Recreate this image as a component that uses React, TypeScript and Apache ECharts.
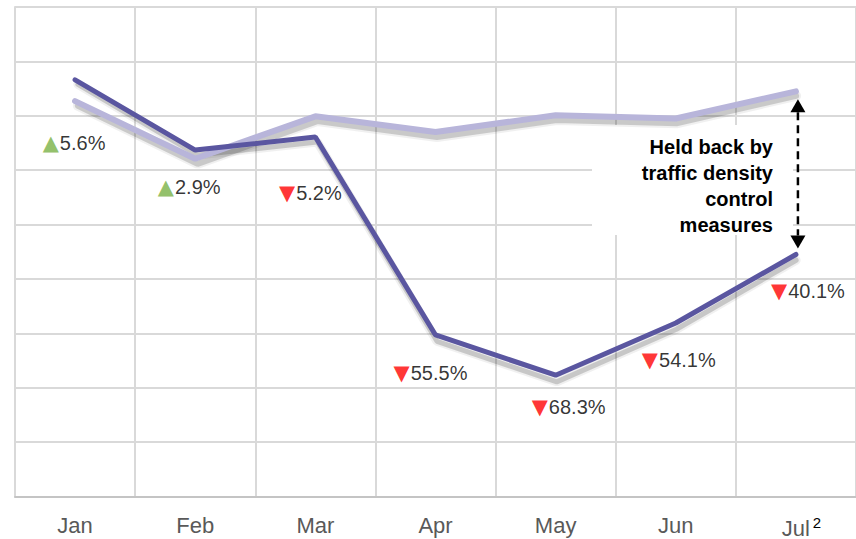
import React, { useEffect, useRef } from "react";
import * as echarts from "echarts";

// Monthly values (index units) and year-on-year change of the current year
const months = ["Jan", "Feb", "Mar", "Apr", "May", "Jun", "Jul"];
const previousYear = [7.27, 6.21, 6.99, 6.7, 7.01, 6.95, 7.45];
const currentYear = [7.66, 6.37, 6.61, 2.97, 2.23, 3.19, 4.45];
const changePct = [5.6, 2.9, -5.2, -55.5, -68.3, -54.1, -40.1];
const footnoteMonth = "Jul";
const footnoteMark = "2";
const annotationLines = ["Held back by", "traffic density", "control", "measures"];

// Where each change label sits relative to its point (pixels)
const labelShift: [number, number][] = [
  [-1, 63],
  [-6, 37],
  [-5, 56],
  [-5, 38],
  [13, 32],
  [3, 37],
  [12, 37],
];

const FONT = '"Liberation Sans", Arial, "DejaVu Sans", sans-serif';
const GRID_COLOR = "#d9d9d9";
const DARK = "#5a56a0";
const LIGHT = "#b8b5da";

const GRID_BOX = { left: 15, top: 7, width: 849, height: 493 };
// the drop shadow is the same lines drawn on a grid nudged down-right
const SHADOW_DX = 3;
const SHADOW_DY = 4;

function changeLabel(v: number): string {
  const mark = v >= 0 ? "{up|▲}" : "{down|▼}";
  return mark + "{t|" + Math.abs(v).toFixed(1) + "%}";
}

export default function App() {
  const ref = useRef<HTMLDivElement>(null);

  useEffect(() => {
    if (!ref.current) return;
    const chart = echarts.init(ref.current, undefined, { renderer: "svg" });

    const hiddenAxis = {
      axisLine: { show: false },
      axisTick: { show: false },
      axisLabel: { show: false },
      splitLine: { show: false },
    };

    const shadowSeries = (data: number[], width: number, alpha: number, z: number) => ({
      type: "line",
      data,
      xAxisIndex: 1,
      yAxisIndex: 1,
      symbol: "none",
      silent: true,
      z,
      lineStyle: { color: "rgba(0,0,0," + alpha + ")", width, cap: "round" },
    });

    const option: any = {
      animation: false,
      backgroundColor: "#ffffff",
      textStyle: { fontFamily: FONT },
      grid: [
        { ...GRID_BOX, containLabel: false },
        {
          ...GRID_BOX,
          left: GRID_BOX.left + SHADOW_DX,
          top: GRID_BOX.top + SHADOW_DY,
          containLabel: false,
        },
      ],
      xAxis: [
        {
          type: "category",
          data: months,
          boundaryGap: true,
          axisLine: { show: true, lineStyle: { color: "#c4c4c4", width: 2 } },
          axisTick: { show: false },
          splitLine: { show: true, interval: 0, lineStyle: { color: GRID_COLOR, width: 2 } },
          axisLabel: {
            margin: 18,
            interval: 0,
            fontFamily: FONT,
            fontSize: 22,
            color: "#595959",
            formatter: (value: string) =>
              value === footnoteMonth
                ? "{pad|}" + value + "{sup|" + footnoteMark + "}"
                : value,
            rich: {
              pad: { width: 11 },
              sup: {
                fontFamily: FONT,
                fontSize: 15,
                color: "#000000",
                padding: [0, 0, 12, 3],
              },
            },
          },
        },
        { type: "category", data: months, boundaryGap: true, gridIndex: 1, ...hiddenAxis },
      ],
      yAxis: [
        {
          type: "value",
          min: 0,
          max: 9,
          interval: 1,
          axisLabel: { show: false },
          axisTick: { show: false },
          axisLine: { show: true, lineStyle: { color: GRID_COLOR, width: 2 } },
          splitLine: { show: true, lineStyle: { color: GRID_COLOR, width: 2 } },
        },
        { type: "value", min: 0, max: 9, interval: 1, gridIndex: 1, ...hiddenAxis },
      ],
      series: [
        shadowSeries(previousYear, 10, 0.06, 1),
        shadowSeries(previousYear, 6, 0.16, 1),
        shadowSeries(currentYear, 9, 0.06, 1),
        shadowSeries(currentYear, 5, 0.17, 1),
        {
          name: "Previous year",
          type: "line",
          data: previousYear,
          symbol: "none",
          z: 3,
          lineStyle: { color: LIGHT, width: 6, cap: "round" },
        },
        {
          name: "Current year",
          type: "line",
          data: currentYear,
          symbol: "none",
          z: 4,
          lineStyle: { color: DARK, width: 5, cap: "round" },
        },
        {
          name: "Change",
          type: "scatter",
          symbolSize: 1,
          z: 5,
          itemStyle: { color: "transparent" },
          data: currentYear.map((v, i) => ({
            value: v,
            label: {
              show: true,
              position: "inside",
              offset: labelShift[i],
              fontFamily: FONT,
              fontSize: 20,
              color: "#000000",
              formatter: changeLabel(changePct[i]),
              rich: {
                up: { fontFamily: "DejaVu Sans", fontSize: 21, color: "#77b043", padding: [0, 1, 0, 0] },
                down: { fontFamily: "DejaVu Sans", fontSize: 21, color: "#ff0000", padding: [0, 1, 0, 0] },
                t: { fontFamily: FONT, fontSize: 20, color: "#000000" },
              },
            },
          })),
        },
      ],
    };

    chart.setOption(option);

    // Dashed double arrow between the two July points
    const last = months.length - 1;
    const topPt = chart.convertToPixel({ xAxisIndex: 0, yAxisIndex: 0 }, [months[last], previousYear[last]]) as number[];
    const botPt = chart.convertToPixel({ xAxisIndex: 0, yAxisIndex: 0 }, [months[last], currentYear[last]]) as number[];
    const ax = topPt[0] + 2;
    const tipTop = topPt[1] + 8;
    const tipBot = botPt[1] - 6;
    const headH = 13;
    const headW = 7.5;

    chart.setOption({
      graphic: [
        {
          type: "rect",
          z: 1,
          shape: { x: 592, y: 125, width: 201, height: 110 },
          style: { fill: "#ffffff" },
        },
        {
          type: "text",
          z: 6,
          style: {
            text: annotationLines.join("\n"),
            x: 773,
            y: 134,
            align: "right",
            verticalAlign: "top",
            font: "bold 20px " + FONT,
            lineHeight: 26,
            fill: "#000000",
          },
        },
        {
          type: "line",
          z: 6,
          shape: { x1: ax, y1: tipTop + headH, x2: ax, y2: tipBot - headH },
          style: { stroke: "#000000", lineWidth: 2.5, lineDash: [8, 5] },
        },
        {
          type: "polygon",
          z: 6,
          shape: {
            points: [
              [ax, tipTop],
              [ax - headW, tipTop + headH],
              [ax + headW, tipTop + headH],
            ],
          },
          style: { fill: "#000000" },
        },
        {
          type: "polygon",
          z: 6,
          shape: {
            points: [
              [ax, tipBot],
              [ax - headW, tipBot - headH],
              [ax + headW, tipBot - headH],
            ],
          },
          style: { fill: "#000000" },
        },
      ],
    });

    return () => chart.dispose();
  }, []);

  return (
    <div
      ref={ref}
      style={{ position: "absolute", left: 0, top: 0, width: 856, height: 539, background: "#fff" }}
    />
  );
}
